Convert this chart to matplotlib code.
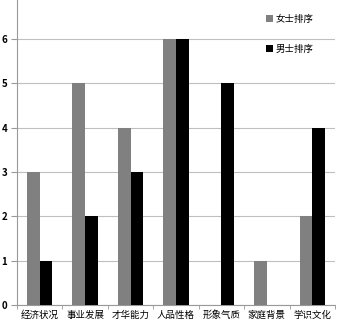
import numpy as np
import matplotlib.pyplot as plt

plt.rcParams['font.family'] = ['Noto Sans CJK SC', 'DejaVu Sans']

categories = ["经济状况", "事业发展", "才华能力", "人品性格", "形象气质", "家庭背景", "学识文化"]
women = [3, 5, 4, 6, 0, 1, 2]
men = [1, 2, 3, 6, 5, 0, 4]
series_names = ["女士排序", "男士排序"]

fig = plt.figure(figsize=(3.37, 3.27), dpi=100)
ax = fig.add_axes([17 / 337, 22 / 327, 318 / 337, 305 / 327])

x = np.arange(len(categories))
w = 0.28
ax.bar(x - w / 2, women, w, color="#808080", label=series_names[0], zorder=3)
ax.bar(x + w / 2, men, w, color="#000000", label=series_names[1], zorder=3)

ax.set_xlim(-0.5, len(categories) - 0.5)
ax.set_ylim(0, 6.88)
ax.set_yticks(range(7))
ax.set_yticklabels([str(i) for i in range(7)], fontsize=7, fontweight="bold")
ax.grid(axis="y", color="#bfbfbf", linewidth=0.8, zorder=0)

ax.set_xticks(x)
ax.set_xticklabels(categories, fontsize=6.8)
ax.tick_params(axis="x", length=0, pad=4)
ax.set_xticks(np.arange(-0.5, len(categories)), minor=True)
ax.tick_params(axis="x", which="minor", length=3, color="#999999")
ax.tick_params(axis="y", length=4, color="#999999", pad=3)

for s in ["top", "right"]:
    ax.spines[s].set_visible(False)
for s in ["left", "bottom"]:
    ax.spines[s].set_color("#999999")
    ax.spines[s].set_linewidth(0.8)

leg = ax.legend(loc="upper right", bbox_to_anchor=(0.96, 0.98), frameon=False,
                fontsize=6.8, handlelength=0.7, handleheight=0.7,
                handletextpad=0.3, labelspacing=2.2)

fig.savefig("out.png", dpi=100)
